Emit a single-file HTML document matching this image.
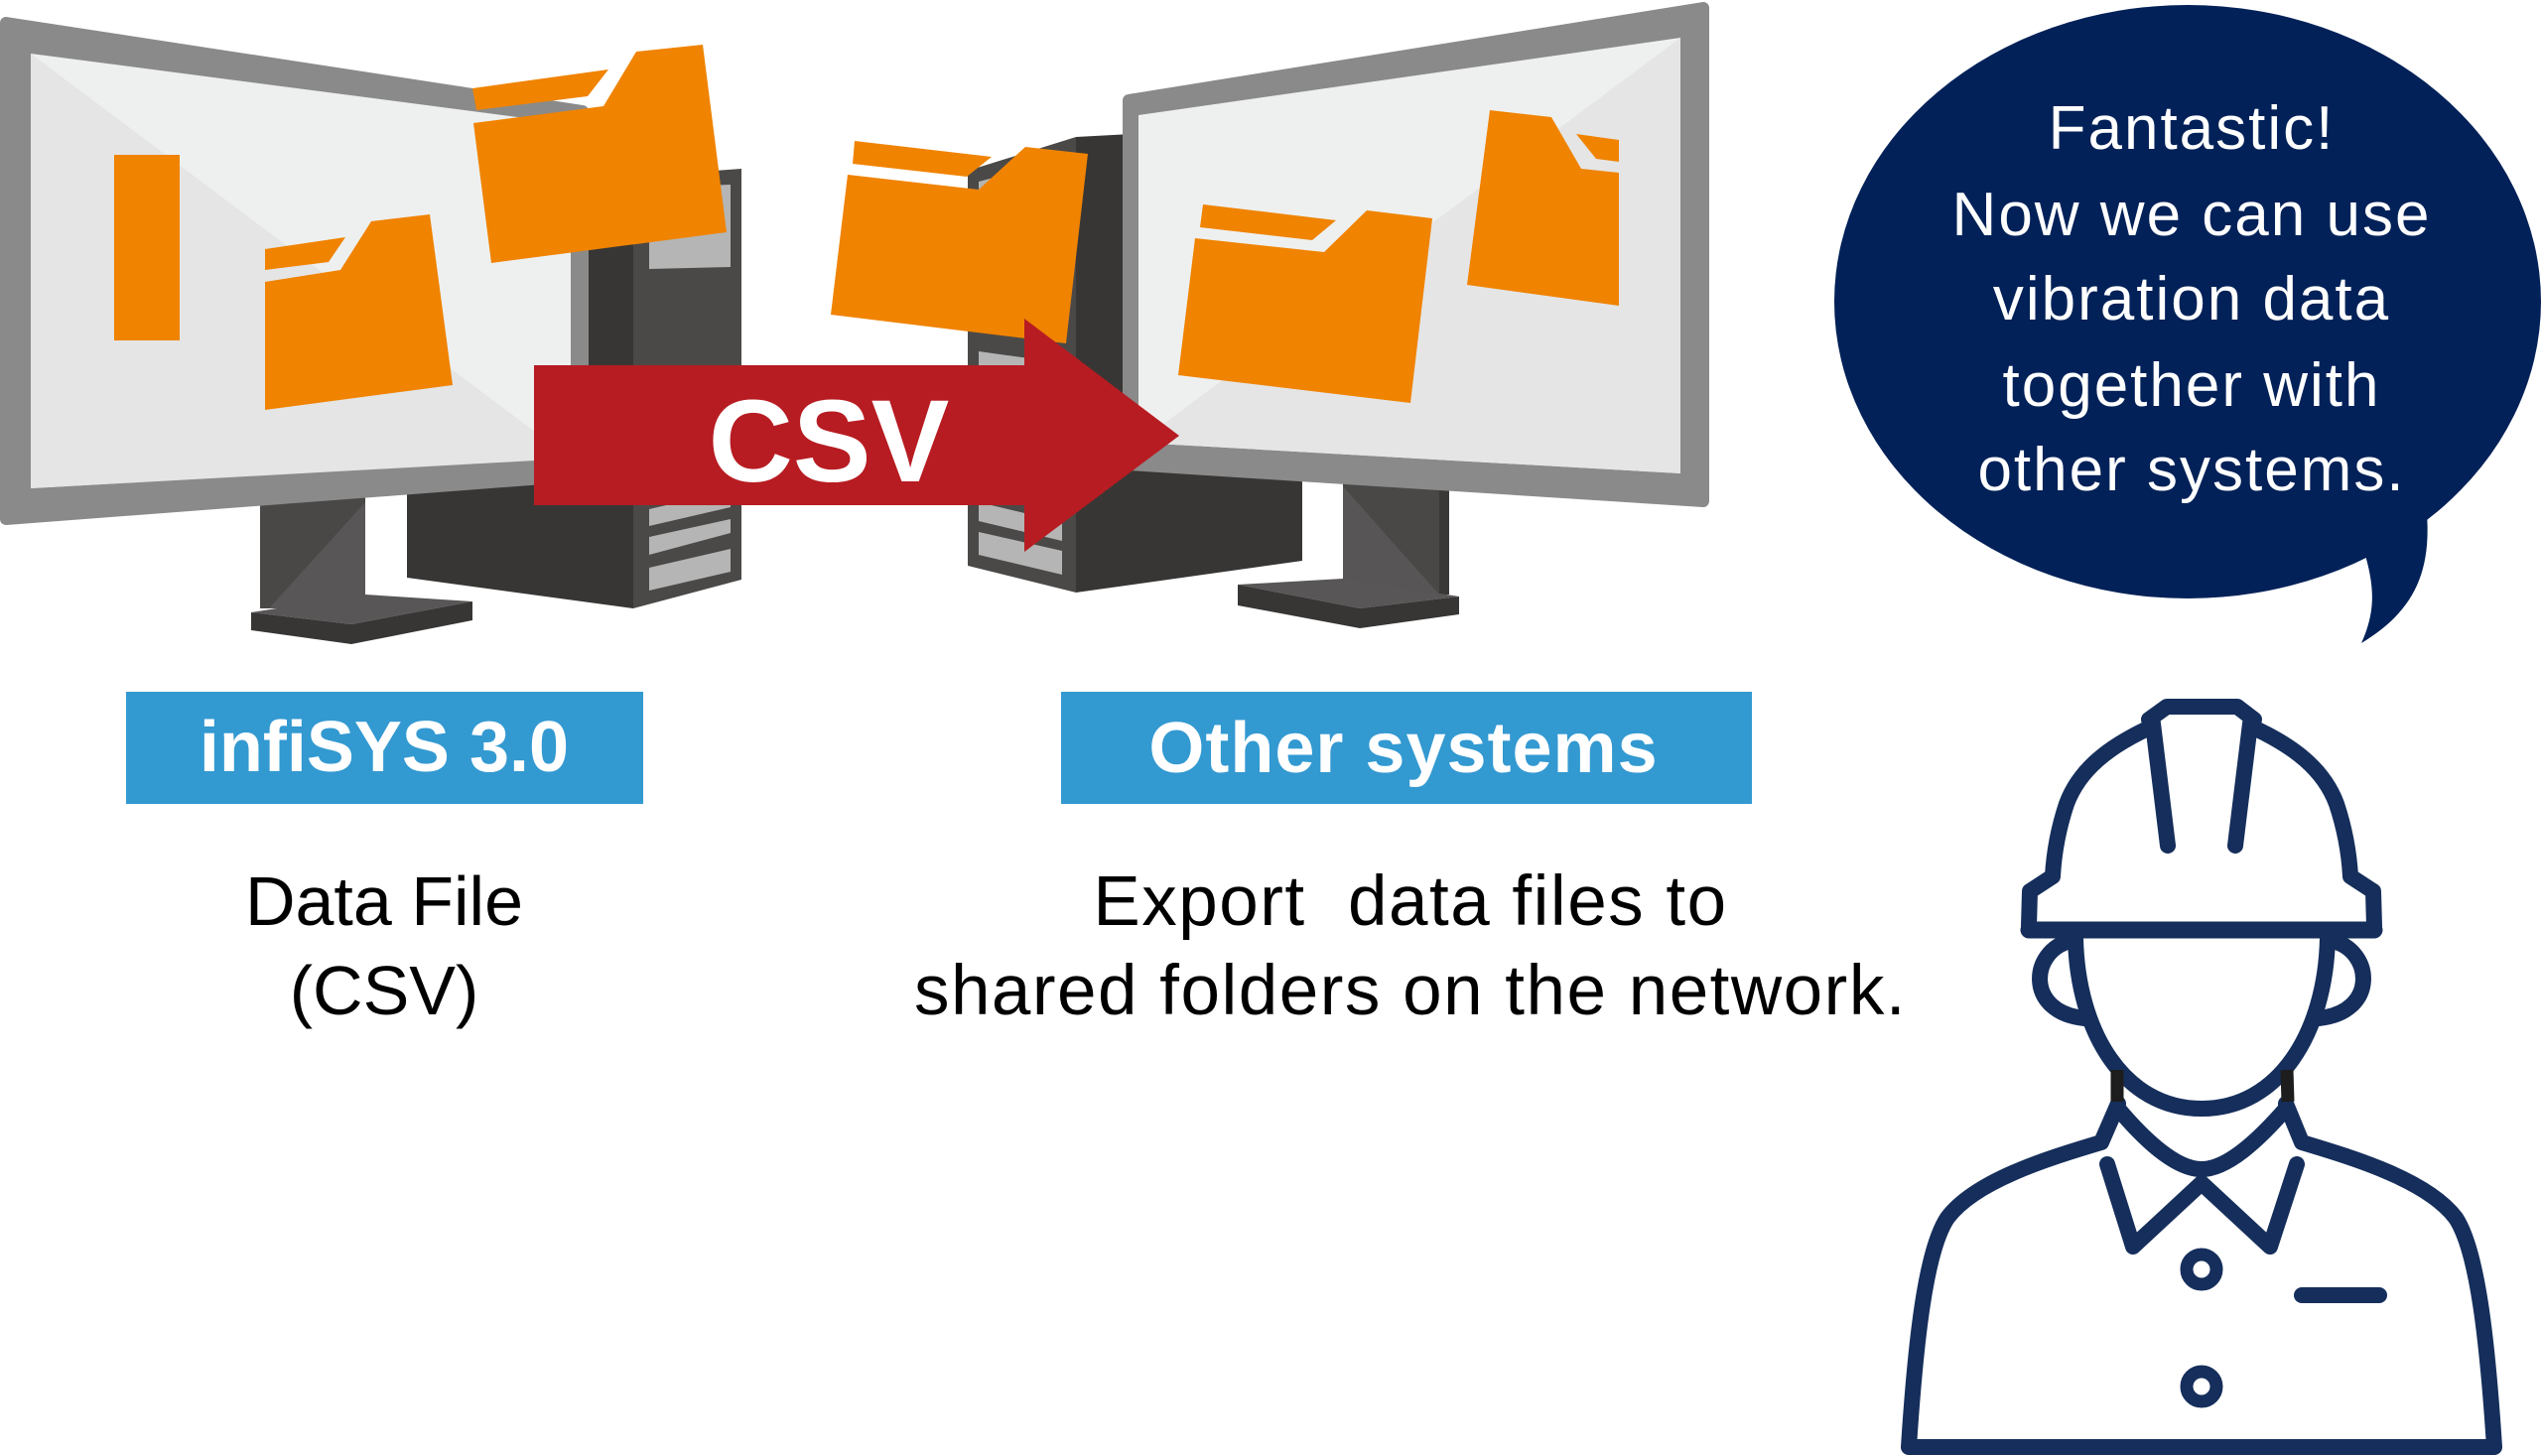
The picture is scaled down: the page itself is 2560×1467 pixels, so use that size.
<!DOCTYPE html>
<html>
<head>
<meta charset="utf-8">
<style>
  html,body{margin:0;padding:0;background:#ffffff;}
  body{width:2560px;height:1467px;overflow:hidden;}
  svg{display:block;}
  .lbl{font-family:"Liberation Sans",Arial,sans-serif;}
</style>
</head>
<body>
<svg width="2560" height="1467" viewBox="0 0 2560 1467" xmlns="http://www.w3.org/2000/svg">
  <rect x="0" y="0" width="2560" height="1467" fill="#ffffff"/>

  <!-- ===== LEFT COMPUTER ===== -->
  <!-- tower side face -->
  <polygon points="592,172 638,176 638,613 410,582 410,470 592,470" fill="#383634"/>
  <!-- tower front face -->
  <polygon points="638,178 747,170 747,584 638,613" fill="#4b4947"/>
  <polygon points="654,189 736,186 736,269 654,271" fill="#b4b5b4"/>
  <polygon points="654,513 736,494 736,511 654,530" fill="#b4b5b4"/>
  <polygon points="654,541 736,523 736,537 654,559" fill="#b4b5b4"/>
  <polygon points="654,572 736,553 736,576 654,595" fill="#b4b5b4"/>

  <!-- left stand neck -->
  <rect x="262" y="500" width="106" height="113" fill="#4a4846"/>
  <polygon points="368,506 368,613 271,613" fill="#585656"/>
  <!-- left base -->
  <polygon points="253,617 368,599 476,606 354,629" fill="#585656"/>
  <polygon points="253,617 354,629 354,649 253,635" fill="#383634"/>
  <polygon points="354,629 476,606 476,625 354,649" fill="#383634"/>

  <!-- left monitor bezel -->
  <polygon points="6,23 587,112 587,479 6,523" fill="#8a8a8a" stroke="#8a8a8a" stroke-width="12" stroke-linejoin="round"/>
  <!-- left screen -->
  <polygon points="31,54 575,125 575,461 31,492" fill="#eef0ef"/>
  <polygon points="31,54 575,462 31,492" fill="#e5e5e5"/>

  <!-- orange bar -->
  <rect x="115" y="156" width="66" height="187" fill="#f08300"/>
  <!-- small folder in left screen -->
  <polygon points="267,251 348,239 331,264 267,272" fill="#f08300"/>
  <polygon points="267,284 343,272 374,223 433,216 456,388 267,413" fill="#f08300"/>

  <!-- big floating folder (left) -->
  <polygon points="476,89 613,70 592,97 480,111" fill="#f08300"/>
  <polygon points="477,124 608,107 641,52 708,45 732,234 495,265" fill="#f08300"/>

  <!-- ===== RIGHT COMPUTER ===== -->
  <!-- tower side (dark) -->
  <polygon points="1084,138 1140,135 1140,470 1312,470 1312,565 1084,597" fill="#383634"/>
  <!-- tower front -->
  <polygon points="975,172 1084,138 1084,597 975,570" fill="#4b4947"/>
  <polygon points="986,183 1072,160 1072,250 986,262" fill="#b4b5b4"/>
  <polygon points="986,354 1072,366 1072,385 986,372" fill="#b4b5b4"/>
  <polygon points="986,506 1070,526 1070,545 986,525" fill="#b4b5b4"/>
  <polygon points="986,536 1070,555 1070,579 986,559" fill="#b4b5b4"/>

  <!-- right stand neck -->
  <rect x="1353" y="482" width="107" height="117" fill="#4a4846"/>
  <polygon points="1353,490 1353,599 1450,599" fill="#575555"/>
  <rect x="1450" y="482" width="10" height="117" fill="#3a3836"/>
  <!-- right base -->
  <polygon points="1247,589 1353,583 1470,601 1370,613" fill="#585656"/>
  <polygon points="1247,589 1370,613 1370,633 1247,610" fill="#383634"/>
  <polygon points="1370,613 1470,601 1470,619 1370,633" fill="#383634"/>

  <!-- right monitor bezel -->
  <polygon points="1137,101 1716,8 1716,505 1137,468" fill="#8a8a8a" stroke="#8a8a8a" stroke-width="12" stroke-linejoin="round"/>
  <!-- right screen -->
  <polygon points="1147,116 1693,38 1693,477 1147,446" fill="#eef0ef"/>
  <polygon points="1147,446 1693,38 1693,477" fill="#e5e5e5"/>

  <!-- folder A in right screen -->
  <polygon points="1212,206 1346,222 1322,242 1209,229" fill="#f08300"/>
  <polygon points="1204,240 1334,254 1377,212 1443,220 1421,406 1187,378" fill="#f08300"/>
  <!-- folder B in right screen -->
  <polygon points="1588,135 1631,141 1631,163 1608,160" fill="#f08300"/>
  <polygon points="1501,111 1563,118 1593,170 1631,174 1631,308 1478,287" fill="#f08300"/>

  <!-- middle floating folder -->
  <polygon points="861,142 999,158 974,178 859,165" fill="#f08300"/>
  <polygon points="854,176 986,191 1033,148 1096,155 1074,346 837,317" fill="#f08300"/>

  <!-- CSV arrow -->
  <polygon points="538,368 1032,368 1032,321 1188,439 1032,556 1032,509 538,509" fill="#b71c22"/>
  <text x="835" y="485" text-anchor="middle" class="lbl" font-size="118" font-weight="bold" fill="#ffffff">CSV</text>

  <!-- ===== LABELS ===== -->
  <rect x="127" y="697" width="521" height="113" fill="#3399d1"/>
  <text x="387" y="777" text-anchor="middle" class="lbl" font-size="72" font-weight="bold" fill="#ffffff">infiSYS 3.0</text>

  <rect x="1069" y="697" width="696" height="113" fill="#3399d1"/>
  <text x="1414" y="778" text-anchor="middle" class="lbl" font-size="72" font-weight="bold" fill="#ffffff" letter-spacing="1">Other systems</text>

  <text x="387" y="932" text-anchor="middle" class="lbl" font-size="70" fill="#000000">Data File</text>
  <text x="387" y="1022" text-anchor="middle" class="lbl" font-size="70" fill="#000000">(CSV)</text>

  <text x="1421" y="932" text-anchor="middle" class="lbl" font-size="71" fill="#000000" letter-spacing="1.5" xml:space="preserve">Export  data files to</text>
  <text x="1421" y="1022" text-anchor="middle" class="lbl" font-size="71" fill="#000000" letter-spacing="1.5">shared folders on the network.</text>

  <!-- ===== SPEECH BUBBLE ===== -->
  <ellipse cx="2204" cy="304" rx="356" ry="299" fill="#022158"/>
  <path d="M 2445,518 C 2450,585 2425,620 2379,648 C 2394,615 2392,590 2382,556 Z" fill="#022158"/>
  <g class="lbl" font-size="62" fill="#ffffff" text-anchor="middle" letter-spacing="2">
    <text x="2208" y="150">Fantastic!</text>
    <text x="2208" y="237">Now we can use</text>
    <text x="2208" y="322">vibration data</text>
    <text x="2208" y="409">together with</text>
    <text x="2208" y="494">other systems.</text>
  </g>

  <!-- ===== WORKER ===== -->
  <g fill="none" stroke="#152e5b" stroke-width="16" stroke-linecap="round" stroke-linejoin="round">
    <!-- helmet ridge -->
    <path d="M 2165,725 L 2183,712 L 2254,712 L 2271,725"/>
    <!-- helmet dome -->
    <path d="M 2166,733 C 2125,752 2095,775 2082,810 C 2072,840 2069,865 2068,883 L 2045,898 L 2044,933"/>
    <path d="M 2270,733 C 2311,752 2341,775 2354,810 C 2364,840 2367,865 2368,883 L 2391,898 L 2392,933"/>
    <!-- brim -->
    <path d="M 2044,937 L 2392,937" stroke-width="17"/>
    <!-- stripes -->
    <path d="M 2169,729 L 2184,852"/>
    <path d="M 2267,729 L 2252,852"/>
    <!-- face -->
    <path d="M 2091,945 C 2093,1040 2140,1117 2218,1117 C 2296,1117 2343,1040 2345,945"/>
    <!-- ears -->
    <path d="M 2086,948 C 2045,958 2040,1020 2100,1026"/>
    <path d="M 2350,948 C 2391,958 2396,1020 2336,1026"/>
    <!-- shoulders / body -->
    <path d="M 2134,1112 L 2117,1151 C 2060,1168 1990,1190 1962,1227 C 1940,1260 1930,1350 1923,1458 L 2513,1458 C 2506,1350 2496,1260 2474,1227 C 2446,1190 2376,1168 2319,1151 L 2303,1112"/>
    <!-- neckline -->
    <path d="M 2134,1117 C 2160,1148 2192,1178 2218,1178 C 2244,1178 2276,1148 2303,1117"/>
    <!-- collar -->
    <path d="M 2123,1173 L 2149,1256 L 2218,1192 L 2287,1256 L 2314,1173"/>
    <!-- pocket -->
    <path d="M 2319,1305 L 2397,1305"/>
    <!-- buttons -->
    <circle cx="2218" cy="1279" r="15" stroke-width="13"/>
    <circle cx="2218" cy="1397" r="15" stroke-width="13"/>
  </g>
  <!-- neck strap segments -->
  <path d="M 2133,1078 L 2133,1110" stroke="#1d1d1d" stroke-width="13"/>
  <path d="M 2304,1078 L 2305,1110" stroke="#1d1d1d" stroke-width="13"/>
</svg>
</body>
</html>
